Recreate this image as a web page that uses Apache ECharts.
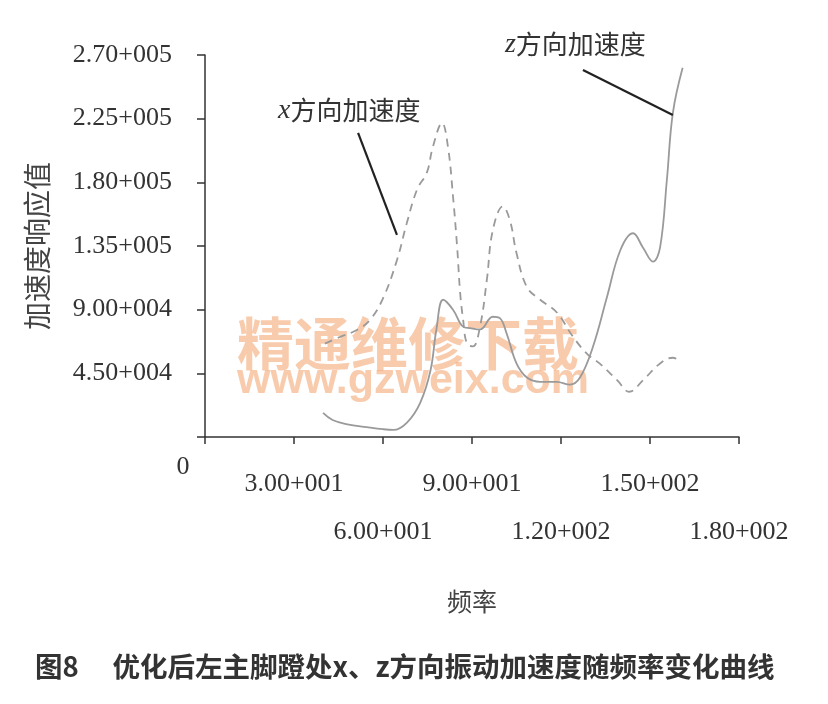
<!DOCTYPE html>
<html>
<head>
<meta charset="utf-8">
<script src="https://cdn.jsdelivr.net/npm/echarts@6/dist/echarts.min.js"></script>
<style>
html,body{margin:0;padding:0;background:#fff;}
#c{width:828px;height:704px;}
</style>
</head>
<body>
<div id="c"></div>
<script>
// ---- data ----
const xTickValues = [0, 30, 60, 90, 120, 150, 180];
const xTickLabels = ['0', '3.00+001', '6.00+001', '9.00+001', '1.20+002', '1.50+002', '1.80+002'];
const yTickValues = [0, 45000, 90000, 135000, 180000, 225000, 270000];
const yTickLabels = ['0', '4.50+004', '9.00+004', '1.35+005', '1.80+005', '2.25+005', '2.70+005'];

// z direction acceleration (solid)
const zFreq = [39.8, 43, 48, 54.5, 60, 63.5, 68, 72.5, 76, 78, 80.3, 83.6, 87, 89.3, 92.7, 97, 99.4, 101.7, 105, 108.5, 113, 118.6, 123, 126.4, 130.8, 135.5, 140, 144.3, 147.6, 151, 153.4, 155.7, 157.7, 161];
const zValue = [17000, 12000, 9000, 7000, 5500, 5000, 10000, 24000, 47000, 76000, 97000, 90000, 78000, 77000, 76000, 85000, 84000, 73000, 52000, 42000, 39000, 39000, 37000, 42000, 64000, 99000, 132000, 144000, 134000, 124000, 134000, 182000, 229000, 261000];

// x direction acceleration (dashed)
const xFreq = [40.4, 45.5, 51.2, 55.6, 60, 64.7, 68, 71.5, 74.8, 76.8, 79.9, 81.9, 83.6, 85, 86, 87, 88.3, 90.3, 92.7, 95, 97, 100.4, 102.8, 105, 108.5, 113, 118.6, 124, 128.7, 133, 139, 143, 147.6, 153.4, 157.7, 160];
const xValue = [66000, 70700, 75600, 82700, 98000, 125000, 151000, 175000, 187000, 205000, 222000, 205000, 170000, 134000, 102000, 83000, 66000, 64000, 78000, 111000, 146000, 163000, 153000, 130000, 106000, 97000, 88000, 71000, 59000, 52000, 40000, 32000, 40000, 52000, 56000, 54000];

// annotation texts and leader lines (data coordinates)
const annXVar = 'x', annZVar = 'z';
const annText = '方向加速度';
const annXTextPos = [24.6, 231000];
const annZTextPos = [101.1, 277500];
const annXLine = [[51.6, 214900], [64.7, 142800]];
const annZLine = [[127.4, 259400], [157.7, 227600]];

const xAxisName = '频率';
const yAxisName = '加速度响应值';
const caption = '图8\u3000 优化后左主脚蹬处x、z方向振动加速度随频率变化曲线';
const watermark1 = '精通维修下载';
const watermark2 = 'www.gzweix.com';

const zData = zFreq.map((f, i) => [f, zValue[i]]);
const xData = xFreq.map((f, i) => [f, xValue[i]]);

const serif = '"Liberation Serif","DejaVu Serif",serif';
const sans = '"Noto Sans CJK SC","Noto Sans",sans-serif';

const chart = echarts.init(document.getElementById('c'), null, {renderer: 'canvas'});

function xLabel(row) {
  return function (v) {
    const i = xTickValues.indexOf(v);
    if (i <= 0) return '';
    return (i % 2 === row) ? xTickLabels[i] : '';
  };
}

const option = {
  animation: false,
  backgroundColor: '#fff',
  grid: {left: 205, right: 89, top: 55, bottom: 267, containLabel: false},
  xAxis: [
    {
      type: 'value', min: 0, max: 180, interval: 30, position: 'bottom', offset: 0,
      name: xAxisName, nameLocation: 'middle', nameGap: 152,
      nameTextStyle: {fontFamily: sans, fontSize: 25, color: '#444'},
      axisLine: {show: true, onZero: false, lineStyle: {color: '#333', width: 1.5}},
      axisTick: {show: true, inside: false, length: 7, lineStyle: {color: '#333', width: 1.5}},
      splitLine: {show: false},
      axisLabel: {interval: 0, margin: 34, fontFamily: serif, fontSize: 26, color: '#333', formatter: xLabel(1)}
    },
    {
      type: 'value', min: 0, max: 180, interval: 60, position: 'bottom', offset: 0,
      axisLine: {show: false, onZero: false},
      axisTick: {show: false},
      splitLine: {show: false},
      axisLabel: {interval: 0, margin: 82, fontFamily: serif, fontSize: 26, color: '#333', formatter: xLabel(0)}
    }
  ],
  yAxis: {
    type: 'value', min: 0, max: 270000, interval: 45000,
    name: yAxisName, nameLocation: 'middle', nameGap: 154, nameRotate: 90,
    nameTextStyle: {fontFamily: sans, fontSize: 28, color: '#444'},
    axisLine: {show: true, lineStyle: {color: '#333', width: 1.5}},
    axisTick: {show: true, inside: false, length: 8, lineStyle: {color: '#333', width: 1.5}},
    splitLine: {show: false},
    axisLabel: {
      margin: 33, fontFamily: serif, fontSize: 26, color: '#333',
      formatter: function (v) {
        const i = yTickValues.indexOf(v);
        if (i <= 0) return '';
        return yTickLabels[i];
      }
    }
  },
  series: [
    {
      name: annZVar + annText, type: 'line', xAxisIndex: 0, data: zData, smooth: 0.4, showSymbol: false, z: 3,
      lineStyle: {color: '#9a9a9a', width: 1.8, type: 'solid'}
    },
    {
      name: annXVar + annText, type: 'line', xAxisIndex: 0, data: xData, smooth: 0.4, showSymbol: false, z: 3,
      lineStyle: {color: '#9a9a9a', width: 1.8, type: [8, 6]}
    }
  ]
};
chart.setOption(option);

function px(p) { return chart.convertToPixel({xAxisIndex: 0, yAxisIndex: 0}, p); }

const o = px([0, 0]);
const tX = px(annXTextPos), tZ = px(annZTextPos);
const lx1 = px(annXLine[0]), lx2 = px(annXLine[1]);
const lz1 = px(annZLine[0]), lz2 = px(annZLine[1]);

const annRich = {
  v: {fontFamily: serif, fontStyle: 'italic', fontSize: 28, fill: '#333', color: '#333'},
  t: {fontFamily: sans, fontSize: 26, fill: '#333', color: '#333'}
};

chart.setOption({
  graphic: [
    {type: 'text', z: 1, left: 237, top: 315, style: {text: watermark1, font: 'bold 57px ' + sans, fill: 'rgba(243,160,105,0.55)'}},
    {type: 'text', z: 1, left: 237, top: 360, style: {text: watermark2, font: 'bold 43px "Liberation Sans",Arial,sans-serif', fill: 'rgba(243,160,105,0.55)'}},
    {type: 'text', z: 5, x: o[0] - 22, y: o[1] + 30, style: {text: '0', font: '26px ' + serif, fill: '#333', align: 'center', verticalAlign: 'middle'}},
    {type: 'text', z: 5, x: tX[0], y: tX[1], style: {text: '{v|' + annXVar + '}{t|' + annText + '}', rich: annRich, align: 'left', verticalAlign: 'middle'}},
    {type: 'text', z: 5, x: tZ[0], y: tZ[1], style: {text: '{v|' + annZVar + '}{t|' + annText + '}', rich: annRich, align: 'left', verticalAlign: 'middle'}},
    {type: 'line', z: 5, shape: {x1: lx1[0], y1: lx1[1], x2: lx2[0], y2: lx2[1]}, style: {stroke: '#222', lineWidth: 2.2}},
    {type: 'line', z: 5, shape: {x1: lz1[0], y1: lz1[1], x2: lz2[0], y2: lz2[1]}, style: {stroke: '#222', lineWidth: 2.2}},
    {type: 'text', z: 5, left: 35, top: 653, style: {text: caption, font: 'bold 27.5px ' + sans, fill: '#333'}}
  ]
});
</script>
</body>
</html>
